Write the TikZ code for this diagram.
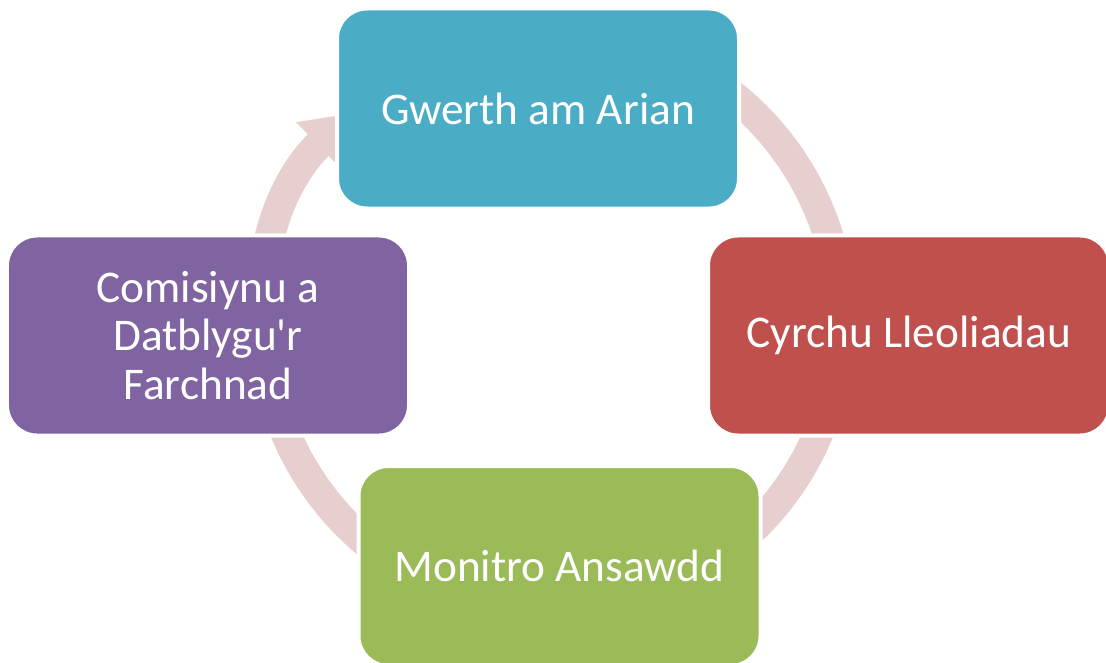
\documentclass[tikz,border=0pt]{standalone}
\usepackage{fontspec}
\newfontfamily\boxfont{Carlito}
\usetikzlibrary{arrows.meta}
\definecolor{topblue}{HTML}{4BACC6}
\definecolor{rightred}{HTML}{C0504D}
\definecolor{bottomgreen}{HTML}{9BBB59}
\definecolor{leftviolet}{HTML}{8064A2}
\definecolor{ringpink}{HTML}{E7CFD0}
\begin{document}
\begin{tikzpicture}[x=1bp,y=-1bp,line join=round,
		box/.style={rectangle,rounded corners=30bp,draw=white,line width=4bp,
			minimum width=402bp,minimum height=200bp,text=white,align=center,
			font={\boxfont\fontsize{45.5}{49}\selectfont}},
		ring/.style={draw=ringpink,line width=30bp,-{Triangle[width=60bp,length=46bp]}}]
	\useasboundingbox (0,0) rectangle (1106,663);
	\coordinate (c) at (552,321);
	% the cycle behind the boxes
	\draw[ring] ([shift={(238:289)}]c) arc[start angle=238,end angle=586,radius=289];
	\node[box,fill=topblue] (arian) at (538,108.5) {Gwerth am Arian};
	\node[box,fill=rightred] (lleoliad) at (909,335.5) {Cyrchu Lleoliadau};
	\node[box,fill=bottomgreen] (ansawdd) at (559.5,566) {Monitro Ansawdd};
	\node[box,fill=leftviolet] (marchnad) at (208,335.5) {Comisiynu a\\Datblygu'r\\Farchnad};
\end{tikzpicture}
\end{document}
